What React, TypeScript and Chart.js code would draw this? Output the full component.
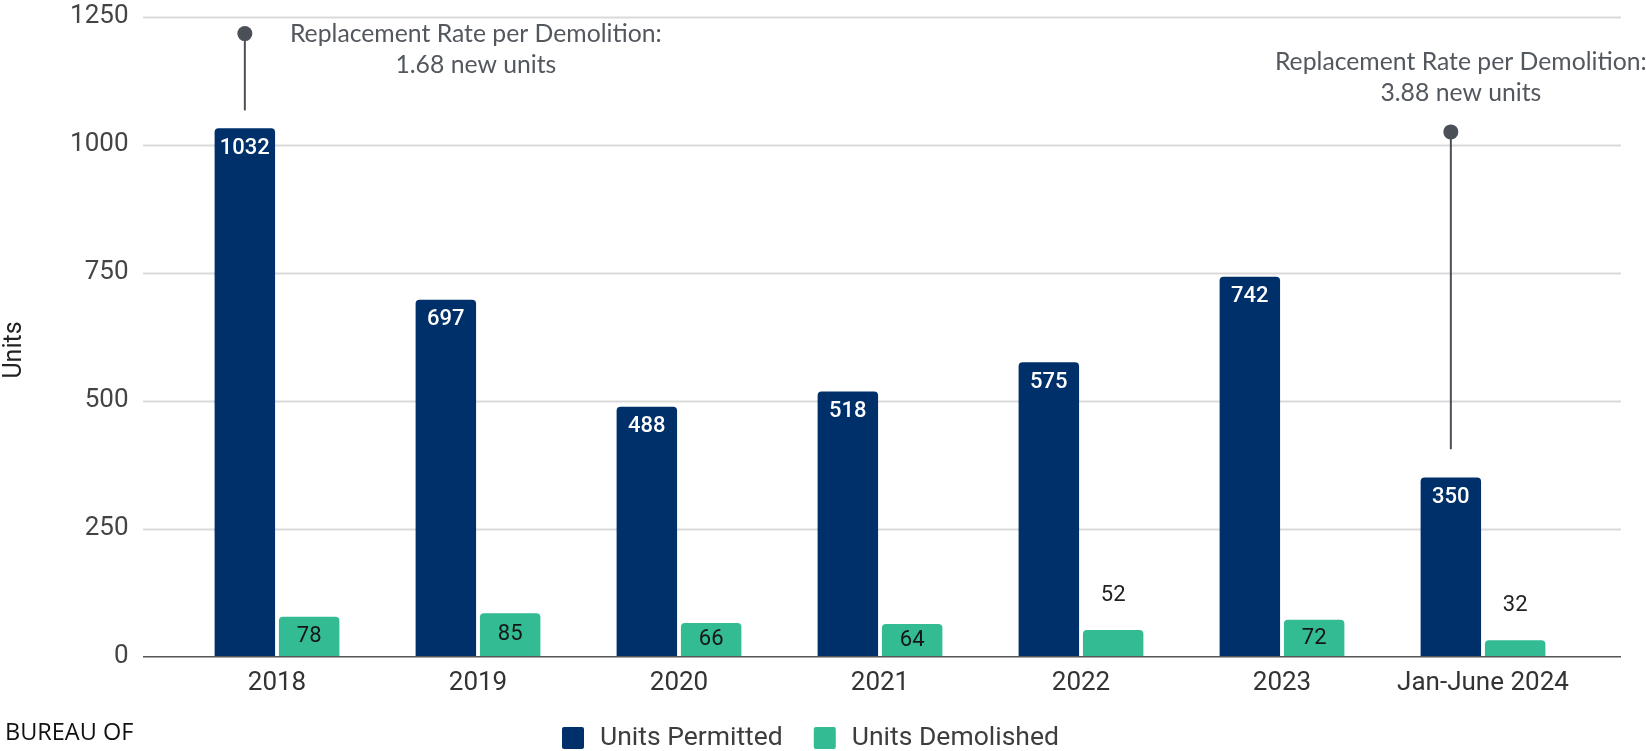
import React, { useEffect, useRef } from "react";
import { Chart, registerables } from "chart.js";

Chart.register(...registerables);

// ---------- data ----------
const categories = ["2018", "2019", "2020", "2021", "2022", "2023", "Jan-June 2024"];
const unitsPermitted = [1032, 697, 488, 518, 575, 742, 350];
const unitsDemolished = [78, 85, 66, 64, 52, 72, 32];
const seriesLabels = ["Units Permitted", "Units Demolished"];
const yTickStep = 250;
const yMax = 1250;
const yAxisTitle = "Units";

// annotation callouts (pinned to the "Units Permitted" bar of a category)
const annotationCategoryIndex = [0, 6];
const annotationPinTopValue = [1217, 1025];
const annotationPinBottomValue = [1067, 405];
const annotationLines = [
  ["Replacement Rate per Demolition:", "1.68 new units"],
  ["Replacement Rate per Demolition:", "3.88 new units"],
];
const footerText = "BUREAU OF";

// ---------- styles ----------
const BLUE = "#00306a";
const GREEN = "#33bb93";
const W = 1646;
const H = 751;
const AXIS_FONT = "Roboto";
const annotationTextOffset = [
  { dx: 231, dy: 0 },
  { dx: 10, dy: -70 },
];

const gridPlugin = {
  id: "extGrid",
  beforeDatasetsDraw(chart: any) {
    const { ctx, chartArea, scales } = chart;
    const ys = scales.y;
    ctx.save();
    ys.ticks.forEach((t: any) => {
      if (t.value === 0) return;
      const y = Math.round(ys.getPixelForValue(t.value)) + 0.5;
      ctx.strokeStyle = "#dadada";
      ctx.lineWidth = 2;
      ctx.beginPath();
      ctx.moveTo(chartArea.left - 33.5, y);
      ctx.lineTo(chartArea.right + 37.5, y);
      ctx.stroke();
    });
    ctx.restore();
  },
  afterDatasetsDraw(chart: any) {
    const { ctx, chartArea, scales } = chart;
    const y = scales.y.getPixelForValue(0);
    ctx.save();
    ctx.strokeStyle = "#555";
    ctx.lineWidth = 1.5;
    ctx.beginPath();
    ctx.moveTo(chartArea.left - 33.5, y);
    ctx.lineTo(chartArea.right + 37.5, y);
    ctx.stroke();
    ctx.restore();
  },
};

const labelsPlugin = {
  id: "barLabels",
  afterDatasetsDraw(chart: any) {
    const { ctx } = chart;
    ctx.save();
    ctx.textAlign = "center";
    ctx.textBaseline = "middle";
    const m0 = chart.getDatasetMeta(0);
    m0.data.forEach((bar: any, i: number) => {
      ctx.font = `500 22px ${AXIS_FONT}`;
      ctx.fillStyle = "#ffffff";
      ctx.fillText(String(chart.data.datasets[0].data[i]), bar.x, bar.y + 20);
    });
    const m1 = chart.getDatasetMeta(1);
    m1.data.forEach((bar: any, i: number) => {
      const h = bar.base - bar.y;
      ctx.font = `400 22px ${AXIS_FONT}`;
      const txt = String(chart.data.datasets[1].data[i]);
      if (h >= 30) {
        ctx.fillStyle = "#151515";
        ctx.fillText(txt, bar.x, (bar.y + bar.base) / 2);
      } else {
        ctx.fillStyle = "#222222";
        ctx.fillText(txt, bar.x, bar.y - 35);
      }
    });
    ctx.restore();
  },
};

const extrasPlugin = {
  id: "extras",
  afterDraw(chart: any) {
    const { ctx, scales } = chart;
    const ys = scales.y;
    ctx.save();

    // y axis title
    ctx.save();
    ctx.translate(15, 350);
    ctx.rotate(-Math.PI / 2);
    ctx.font = `400 25px ${AXIS_FONT}`;
    ctx.fillStyle = "#222";
    ctx.textAlign = "center";
    ctx.textBaseline = "middle";
    ctx.fillText(yAxisTitle, 0, 0);
    ctx.restore();

    // annotations
    const m0 = chart.getDatasetMeta(0);
    ctx.font = `400 26px Lato`;
    const base = ctx.measureText(annotationLines[0][0]).width;
    const fs = (26 * 372) / base;
    annotationCategoryIndex.forEach((ci, k) => {
      const bar = m0.data[ci];
      const x = bar.x;
      const yTop = ys.getPixelForValue(annotationPinTopValue[k]);
      const yBot = ys.getPixelForValue(annotationPinBottomValue[k]);
      ctx.strokeStyle = "#4b5058";
      ctx.fillStyle = "#4b5058";
      ctx.lineWidth = 2;
      ctx.beginPath();
      ctx.moveTo(x, yTop);
      ctx.lineTo(x, yBot);
      ctx.stroke();
      ctx.beginPath();
      ctx.arc(x, yTop, 7.5, 0, Math.PI * 2);
      ctx.fill();
      ctx.font = `400 ${fs}px Lato`;
      ctx.fillStyle = "#53575e";
      ctx.textAlign = "center";
      ctx.textBaseline = "middle";
      const off = annotationTextOffset[k];
      annotationLines[k].forEach((ln, j) => {
        ctx.fillText(ln, x + off.dx, yTop + off.dy + j * 31.5);
      });
    });

    // legend
    let lx = 562;
    const ly = 738;
    ctx.font = `400 26.5px ${AXIS_FONT}`;
    ctx.textAlign = "left";
    ctx.textBaseline = "middle";
    chart.data.datasets.forEach((ds: any) => {
      ctx.fillStyle = ds.backgroundColor;
      ctx.beginPath();
      (ctx as any).roundRect(lx, ly - 11, 22, 22, 2);
      ctx.fill();
      ctx.fillStyle = "#3d3d3d";
      ctx.fillText(ds.label, lx + 38, ly);
      lx += 38 + ctx.measureText(ds.label).width + 31;
    });

    // footer
    ctx.font = `500 23.5px "Open Sans"`;
    ctx.fillStyle = "#111";
    ctx.textAlign = "left";
    ctx.textBaseline = "middle";
    ctx.fillText(footerText, 5, 733);

    ctx.restore();
  },
};

export default function App() {
  const ref = useRef<HTMLCanvasElement | null>(null);

  useEffect(() => {
    if (!ref.current) return;
    const chart = new Chart(ref.current, {
      type: "bar",
      data: {
        labels: categories,
        datasets: [
          {
            label: seriesLabels[0],
            data: unitsPermitted,
            backgroundColor: BLUE,
            borderRadius: 4,
            borderSkipped: "start",
            categoryPercentage: 0.64,
            barPercentage: 0.94,
          },
          {
            label: seriesLabels[1],
            data: unitsDemolished,
            backgroundColor: GREEN,
            borderRadius: 4,
            borderSkipped: "start",
            categoryPercentage: 0.64,
            barPercentage: 0.94,
          },
        ],
      },
      options: {
        animation: false,
        responsive: true,
        maintainAspectRatio: false,
        layout: { padding: { top: 16.7, right: 62.5, bottom: 0, left: 0 } },
        plugins: {
          legend: { display: false },
          tooltip: { enabled: false },
          title: { display: false },
        },
        scales: {
          x: {
            grid: { display: false, drawTicks: false },
            border: { display: false },
            ticks: {
              font: { family: AXIS_FONT, size: 26 },
              color: "#333",
              padding: 11,
              maxRotation: 0,
              autoSkip: false,
            },
            afterFit(s: any) {
              s.height = H - 656.7;
            },
          },
          y: {
            min: 0,
            max: yMax,
            grid: { display: false, drawTicks: true, tickLength: 48 },
            border: { display: false },
            ticks: {
              stepSize: yTickStep,
              font: { family: AXIS_FONT, size: 26 },
              color: "#444",
              padding: 0,
              callback: (v: any) => String(v),
            },
            afterFit(s: any) {
              s.width = 176.5;
            },
          },
        },
      },
      plugins: [gridPlugin, labelsPlugin, extrasPlugin],
    } as any);
    return () => chart.destroy();
  }, []);

  return (
    <div style={{ position: "absolute", left: 0, top: 0, width: W, height: H, overflow: "hidden", background: "#fff" }}>
      <canvas ref={ref} />
    </div>
  );
}
